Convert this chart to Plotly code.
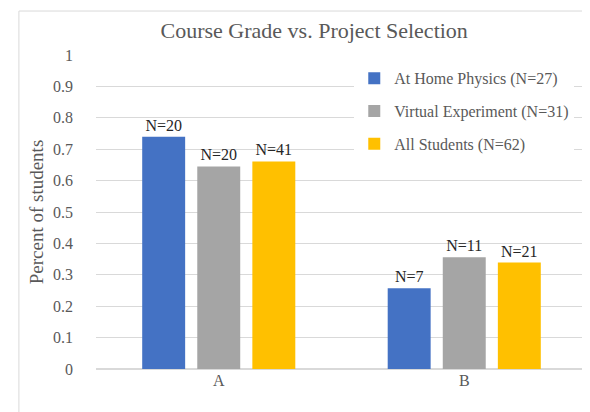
import plotly.graph_objects as go

# Daten
categories = ["A", "B"]
series_names = ["At Home Physics (N=27)", "Virtual Experiment (N=31)", "All Students (N=62)"]
at_home = [0.74, 0.257]
virtual = [0.645, 0.356]
all_students = [0.661, 0.339]
at_home_n = ["N=20", "N=7"]
virtual_n = ["N=20", "N=11"]
all_n = ["N=41", "N=21"]
colors = ["#4472C4", "#A5A5A5", "#FFC000"]

FONT = "Liberation Serif"
GREY = "#595959"

fig = go.Figure()

for i, (name, vals, labels) in enumerate(zip(series_names,
                                             [at_home, virtual, all_students],
                                             [at_home_n, virtual_n, all_n])):
    fig.add_trace(go.Bar(
        x=categories,
        y=vals,
        name=name,
        legendgroup=str(i),
        marker=dict(color=colors[i], line=dict(width=0)),
        text=labels,
        textposition="outside",
        textfont=dict(family=FONT, size=16, color="#262626"),
        cliponaxis=False,
    ))

# Rahmen um das Diagramm
fig.add_shape(type="rect", xref="paper", yref="paper",
              x0=-0.157, x1=1.2, y0=-0.4, y1=1.140,
              line=dict(color="#D9D9D9", width=1), layer="below")

fig.update_layout(
    width=590,
    height=412,
    margin=dict(l=88, r=11, t=47, b=51),
    paper_bgcolor="white",
    plot_bgcolor="white",
    font=dict(family=FONT, color=GREY, size=16),
    title=dict(text="Course Grade vs. Project Selection",
               font=dict(family=FONT, size=22, color=GREY),
               x=0.519, xanchor="center", y=0.947, yanchor="middle"),
    barmode="group",
    bargap=0.327,
    bargroupgap=0.22,
    showlegend=True,
    legend=dict(x=0.526, y=0.98, xanchor="left", yanchor="top",
                bgcolor="white", font=dict(family=FONT, size=16, color=GREY),
                tracegroupgap=9, itemwidth=30, traceorder="grouped"),
    xaxis=dict(showline=False, ticks="", tickfont=dict(family=FONT, size=16, color=GREY),
               showgrid=False, ticklabelstandoff=0),
    yaxis=dict(range=[0, 1], dtick=0.1, tick0=0, showgrid=True,
               gridcolor="#D9D9D9", gridwidth=1, zeroline=True,
               zerolinecolor="#D9D9D9", showline=False, ticks="",
               tickfont=dict(family=FONT, size=16, color=GREY), ticklabelstandoff=22,
               title=dict(text="Percent of students",
                          font=dict(family=FONT, size=19, color=GREY),
                          standoff=4)),
)

fig.write_html("out.html")
